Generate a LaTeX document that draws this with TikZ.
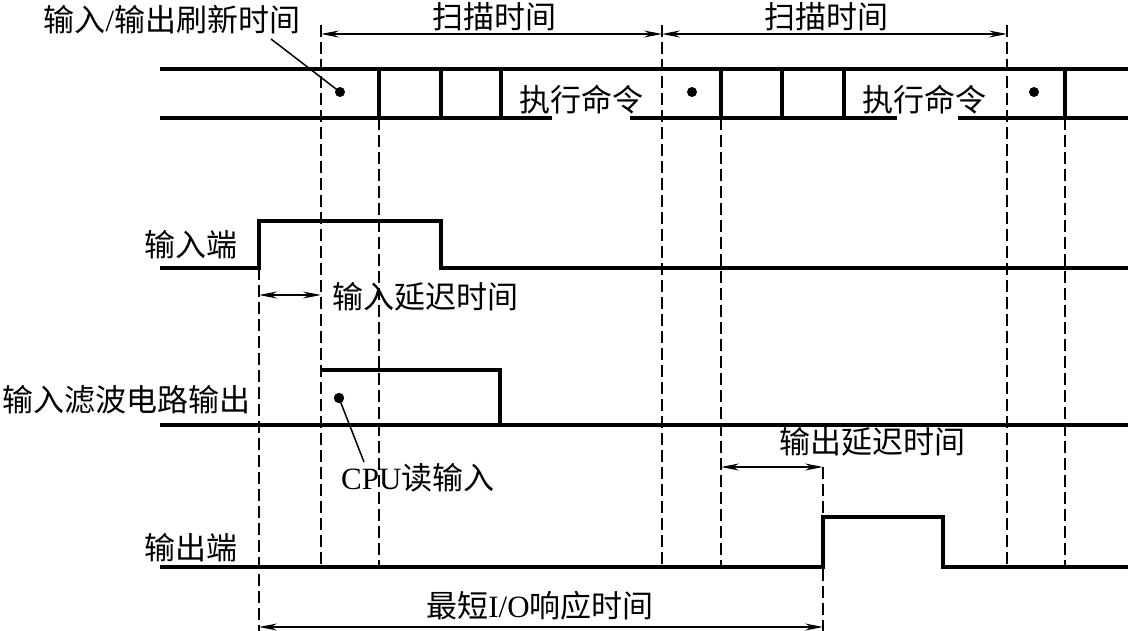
\documentclass[tikz,border=0pt]{standalone}
\usepackage{fontspec}
\setmainfont{Liberation Serif}
\newfontfamily\cjk{Noto Sans CJK SC}
\usetikzlibrary{arrows.meta}
\tikzset{
  sig/.style   = {line width=3.3pt},
  guide/.style = {line width=1.6pt, dash pattern=on 12pt off 5pt},
  dim/.style   = {line width=1.2pt, arrows={Stealth[length=18pt,width=7pt,inset=6pt]-Stealth[length=18pt,width=7pt,inset=6pt]}},
  lead/.style  = {line width=1.5pt},
  lbl/.style   = {font={\cjk\fontsize{31}{34}\selectfont}, inner sep=0pt},
}

\begin{document}
\begin{tikzpicture}[x=1pt,y=-1pt]
  \useasboundingbox (0,0) rectangle (1128,631);
  % scan band
  \draw[sig] (160,69) -- (1128,69);
  \draw[sig] (160,118) -- (552,118) (630,118) -- (897,118) (958,118) -- (1128,118);
  \foreach \x in {379,441,501,721,782,844,1065}
    \draw[sig] (\x,69) -- (\x,118);
  \foreach \x in {340,692,1034}
    \fill (\x,92) circle (5pt);
  % time marks
  \foreach \x in {321,662,1007}
    \draw[guide] (\x,25) -- (\x,565);
  \foreach \x in {379,721,1065}
    \draw[guide] (\x,118) -- (\x,565);
  \draw[guide] (259,268) -- (259,631);
  \draw[guide] (823,467) -- (823,631);
  % signals
  \draw[sig] (160,268) -- (259,268) -- (259,221) -- (441,221) -- (441,268) -- (1128,268);
  \draw[sig] (160,425) -- (1128,425) (321,370) -- (500,370) -- (500,425);
  \draw[sig] (160,567) -- (823,567) -- (823,517) -- (943,517) -- (943,567) -- (1128,567);
  \fill (339,398) circle (5.2pt);

  \coordinate (s1) at (321,34);
  \coordinate (s2) at (662,34);
  \coordinate (s3) at (1007,34);
  \coordinate (d1) at (259,295);
  \coordinate (d2) at (321,295);
  \coordinate (o1) at (721,467);
  \coordinate (o2) at (823,467);
  \coordinate (r1) at (259,627);
  \coordinate (r2) at (823,627);
  \draw[dim] (s1) -- (s2);
  \draw[dim] (s2) -- (s3);
  \draw[dim] (d1) -- (d2);
  \draw[dim] (o1) -- (o2);
  \draw[dim] (r1) -- (r2);

  \node[lbl] (refresh) at (172,20) {输入{\rmfamily/}输出刷新时间};
  \node[lbl] (scan1) at (494,17) {扫描时间};
  \node[lbl] (scan2) at (826,17) {扫描时间};
  \node[lbl] (exec1) at (581,100) {执行命令};
  \node[lbl] (exec2) at (924,100) {执行命令};
  \node[lbl, anchor=east] (inport) at (238,245) {输入端};
  \node[lbl, anchor=west] (indelay) at (332,297) {输入延迟时间};
  \node[lbl, anchor=east] (filter) at (251,400) {输入滤波电路输出};
  \node[lbl, anchor=west] (cpuread) at (341,478) {{\rmfamily CPU}读输入};
  \node[lbl, anchor=west] (outdelay) at (779,442) {输出延迟时间};
  \node[lbl, anchor=east] (outport) at (238,548) {输出端};
  \node[lbl] (resp) at (540,606) {最短{\rmfamily I/O}响应时间};

  \coordinate (rl) at (271,39);
  \coordinate (cl) at (364,462);
  \draw[lead] (rl) -- (340,92);
  \draw[lead] (cl) -- (339,398);
\end{tikzpicture}
\end{document}
